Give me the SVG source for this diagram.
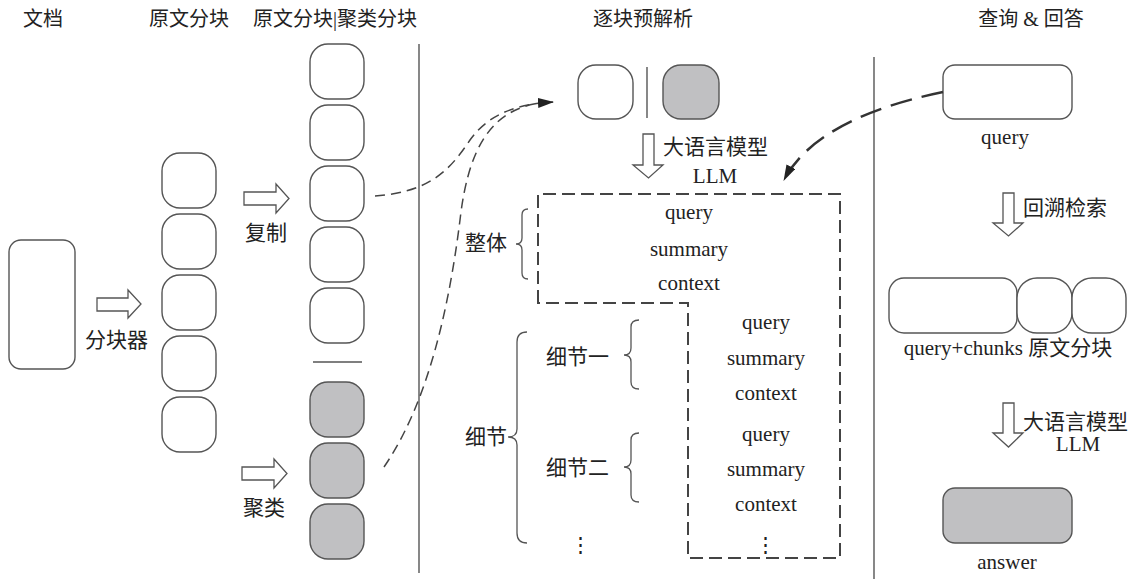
<svg xmlns="http://www.w3.org/2000/svg" width="1134" height="579" viewBox="0 0 1134 579">
<style>
.t{font-family:"Liberation Serif","Noto Sans CJK SC",serif;font-size:21px;fill:#222}
.h{font-size:20px}
.m{text-anchor:middle}
.b{fill:#fff;stroke:#555;stroke-width:1.4}
.g{fill:#c0c0c2;stroke:#555;stroke-width:1.4}
.ln{stroke:#555;stroke-width:1.4;fill:none}
.ar{fill:#fff;stroke:#555;stroke-width:1.3}
.br{fill:none;stroke:#555;stroke-width:1.3}
.dash{fill:none;stroke:#444;stroke-width:2;stroke-dasharray:13 6}
.cv{fill:none;stroke:#444;stroke-width:1.5;stroke-dasharray:10 6}
</style>
<defs>
<marker id="ah" viewBox="0 0 16 10" refX="15" refY="5" markerWidth="16" markerHeight="10" markerUnits="userSpaceOnUse" orient="auto"><path d="M0,0 L16,5 L0,10 Z" fill="#222"/></marker>
</defs>
<g id="headers">
<text class="t h" x="23" y="26">文档</text>
<text class="t h" x="149" y="26">原文分块</text>
<text class="t h" x="253" y="26">原文分块|聚类分块</text>
<text class="t h m" x="643" y="26">逐块预解析</text>
<text class="t h m" x="1031" y="26">查询 &amp; 回答</text>
</g>
<g id="dividers">
<line class="ln" x1="419" y1="44" x2="419" y2="573"/>
<line class="ln" x1="874" y1="57" x2="874" y2="579"/>
</g>
<g id="doc"><rect class="b" x="9" y="240" width="66" height="129" rx="12"/></g>
<g id="chunker">
<path class="ar" d="M97,298 H128 V290 L141,304 L128,318 V311 H97 Z"/>
<text class="t" x="85" y="347">分块器</text>
</g>
<g id="chunks">
<rect class="b" x="162" y="153" width="54" height="55" rx="18"/>
<rect class="b" x="162" y="214" width="54" height="55" rx="18"/>
<rect class="b" x="162" y="275" width="54" height="55" rx="18"/>
<rect class="b" x="162" y="336" width="54" height="55" rx="18"/>
<rect class="b" x="162" y="397" width="54" height="55" rx="18"/>
</g>
<g id="copy">
<path class="ar" d="M244,192 H276 V184 L289,198.5 L276,213 V205 H244 Z"/>
<text class="t" x="245" y="240">复制</text>
</g>
<g id="cluster">
<path class="ar" d="M242,467 H274 V459 L287,473.5 L274,488 V480 H242 Z"/>
<text class="t" x="243" y="515">聚类</text>
</g>
<g id="chunks2">
<rect class="b" x="310" y="44" width="54" height="55" rx="18"/>
<rect class="b" x="310" y="105" width="54" height="55" rx="18"/>
<rect class="b" x="310" y="166" width="54" height="55" rx="18"/>
<rect class="b" x="310" y="227" width="54" height="55" rx="18"/>
<rect class="b" x="310" y="288" width="54" height="55" rx="18"/>
<line class="ln" x1="313" y1="362" x2="362" y2="362"/>
<rect class="g" x="310" y="382" width="54" height="55" rx="18"/>
<rect class="g" x="310" y="443" width="54" height="55" rx="18"/>
<rect class="g" x="310" y="504" width="54" height="55" rx="18"/>
</g>
<g id="pair">
<rect class="b" x="578" y="65" width="55" height="54" rx="18"/>
<line class="ln" x1="647" y1="67" x2="647" y2="118"/>
<rect class="g" x="663" y="65" width="56" height="54" rx="18"/>
</g>
<g id="llm1">
<path class="ar" d="M643,134 V165 H633 L648.5,178 L663,165 H654 V134 Z"/>
<text class="t" x="663" y="154">大语言模型</text>
<text class="t m" x="715" y="183">LLM</text>
</g>
<g id="parsed">
<path class="dash" d="M538,303 V194 H840 V558 H688 V303 Z"/>
<text class="t m" x="689" y="219">query</text>
<text class="t m" x="689" y="256">summary</text>
<text class="t m" x="689" y="290">context</text>
<text class="t m" x="766" y="329">query</text>
<text class="t m" x="766" y="365">summary</text>
<text class="t m" x="766" y="400">context</text>
<text class="t m" x="766" y="441">query</text>
<text class="t m" x="766" y="476">summary</text>
<text class="t m" x="766" y="511">context</text>
<text class="t m" x="765" y="552">⋮</text>
</g>
<g id="whole">
<text class="t" x="465" y="250">整体</text>
<path class="br" d="M528,209 Q522,209 522,215 V238 Q522,244 516,244 Q522,244 522,250 V273 Q522,279 528,279"/>
</g>
<g id="detail">
<text class="t" x="465" y="444">细节</text>
<path class="br" d="M527,332 Q517,332 517,342 V429 Q517,437 508,437 Q517,437 517,445 V533 Q517,543 527,543"/>
<text class="t" x="546" y="364">细节一</text>
<path class="br" d="M639,320 Q631,320 631,327 V348 Q631,355 624,355 Q631,355 631,362 V382 Q631,389 639,389"/>
<text class="t" x="546" y="475">细节二</text>
<path class="br" d="M639,433 Q631,433 631,440 V460 Q631,467 624,467 Q631,467 631,474 V495 Q631,502 639,502"/>
<text class="t m" x="580" y="552">⋮</text>
</g>
<g id="query">
<rect class="b" x="943" y="65" width="129" height="54" rx="12"/>
<text class="t m" x="1005" y="144">query</text>
</g>
<g id="retrieve">
<path class="ar" d="M1003,193 V223 H993 L1008.5,236 L1023,223 H1014 V193 Z"/>
<text class="t" x="1023" y="215">回溯检索</text>
</g>
<g id="qchunks">
<rect class="b" x="889" y="278" width="128" height="55" rx="15"/>
<rect class="b" x="1017" y="278" width="55" height="55" rx="20"/>
<rect class="b" x="1072" y="278" width="54" height="55" rx="20"/>
<text class="t m" x="1008" y="355">query+chunks 原文分块</text>
</g>
<g id="llm2">
<path class="ar" d="M1003,403 V433 H993 L1008.5,447 L1023,433 H1014 V403 Z"/>
<text class="t" x="1023" y="429">大语言模型</text>
<text class="t m" x="1078" y="451">LLM</text>
</g>
<g id="answer">
<rect class="g" x="943" y="488" width="129" height="55" rx="12"/>
<text class="t m" x="1007" y="569">answer</text>
</g>
<g id="connectors">
<path class="cv" d="M375,196 C430,192 450,170 470,140 C490,112 520,104 553,102" marker-end="url(#ah)"/>
<path class="cv" d="M384,467 C430,400 450,300 460,220 C468,150 490,110 540,103"/>
<path fill="none" stroke="#333" stroke-width="2.5" stroke-dasharray="22 10" d="M943,92 C880,105 810,130 784,180" marker-end="url(#ah)"/>
</g>
</svg>
